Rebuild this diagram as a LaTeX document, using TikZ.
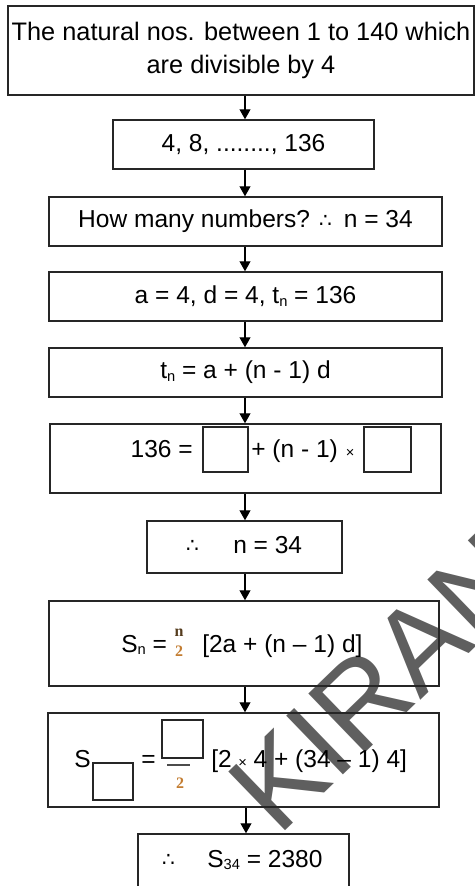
\documentclass[tikz,border=0pt]{standalone}
\usepackage{fontspec}
\setmainfont{Liberation Sans}
\newfontfamily\symfont{DejaVu Sans}
\newfontfamily\fracfont{Liberation Serif}
\usetikzlibrary{arrows.meta}
\definecolor{wmgray}{RGB}{95, 95, 95}
\definecolor{fracbrown}{RGB}{85, 60, 30}
\definecolor{fracorange}{RGB}{195, 125, 50}
\newcommand{\tf}{{\symfont\fontsize{15}{15}\selectfont ∴}}
\newcommand{\lowsub}[1]{\raisebox{-2.2pt}{\fontsize{11}{11}\selectfont #1}}
\newcommand{\smalltimes}{{\fontsize{11}{11}\selectfont ×}}

\begin{document}
\begin{tikzpicture}[x=0.75pt, y=-0.75pt,
    flowbox/.style={draw=black!85, line width=1.1pt, inner sep=0pt, font=\fontsize{18.4}{24.75}\selectfont},
    boxsize/.style 2 args={minimum width=#1*0.75pt, minimum height=#2*0.75pt},
    blank/.style={draw=black!85, line width=1pt, inner sep=0pt},
    txt/.style={inner sep=0pt, font=\fontsize{18.4}{24.75}\selectfont},
    frac/.style={inner sep=0pt, font=\fracfont\bfseries\fontsize{12}{12}\selectfont},
    arr/.style={-{Triangle[width=8.25pt, length=7.5pt]}, line width=0.8pt},
    wmark/.style={inner sep=0pt, text=wmgray, font=\fontsize{89}{89}\selectfont}]
    \clip (0,0) rectangle (475,886);

    % Watermark behind everything
    \node[wmark, rotate=44, anchor=base west] (wm) at (278,838) {KIRAN};

    % Plain boxes with centred text
    \node[flowbox, boxsize={466}{89}, align=center, font=\fontsize{19}{24.75}\selectfont] (b1) at (241,50.5)
        {The natural nos. between 1 to 140 which\\are divisible by 4};
    \node[flowbox, boxsize={261}{49}] (b2) at (243.5,144.5) {4, 8, ........, 136};
    \node[flowbox, boxsize={393}{49}] (b3) at (245.5,221.5) {How many numbers? \tf\hspace{9pt}n = 34};
    \node[flowbox, boxsize={393}{49}] (b4) at (245.5,296.5) {a = 4, d = 4, t\lowsub{n} = 136};
    \node[flowbox, boxsize={393}{49}] (b5) at (245.5,372.5) {t\lowsub{n} = a + (n - 1) d};

    % 136 = [ ] + (n - 1) x [ ]
    \node[flowbox, boxsize={391}{69}] (b6) at (245.5,458.5) {};
    \node[txt, anchor=base east] (t6a) at (193,457) {136 =};
    \node[blank, boxsize={45}{45}] (s6a) at (225.5,449.5) {};
    \node[txt, anchor=base west] (t6b) at (251,457) {+ (n - 1)\hspace{6pt}\smalltimes};
    \node[blank, boxsize={47}{45}] (s6b) at (387.5,449.5) {};

    % therefore n = 34
    \node[flowbox, boxsize={195}{52}] (b7) at (244.5,547) {};
    \node[txt] (t7a) at (192.5,546) {\tf};
    \node[txt, anchor=base west] (t7b) at (233,553) {n = 34};

    % Sum formula
    \node[flowbox, boxsize={390}{85}] (b8) at (244,643.5) {};
    \node[txt, anchor=base west] (t8a) at (121,652) {S\lowsub{n} =};
    \node[frac, text=fracbrown, anchor=base] (f8n) at (179,636) {n};
    \node[frac, text=fracorange, anchor=base] (f8d) at (179,656) {2};
    \node[txt, anchor=base west] (t8b) at (202,652) {[2a + (n – 1) d]};

    % Sum with blanks
    \node[flowbox, boxsize={391}{94}] (b9) at (243.5,760) {};
    \node[txt, anchor=base west] (t9a) at (74,767) {S};
    \node[blank, boxsize={40}{37}] (s9a) at (113,781.5) {};
    \node[txt, anchor=base west] (t9b) at (141,767) {=};
    \node[blank, boxsize={41}{38}] (s9b) at (182.5,739) {};
    \draw[black!70, line width=1.5pt] (167,765) -- (190,765);
    \node[frac, text=fracorange, anchor=base] (f9d) at (180,788) {2};
    \node[txt, anchor=base west] (t9c) at (211,767) {[2\hspace{5pt}\smalltimes\hspace{5pt}4 + (34 – 1) 4]};

    % Result
    \node[flowbox, boxsize={211}{66}] (b10) at (243.5,867) {};
    \node[txt] (t10a) at (168.5,860) {\tf};
    \node[txt, anchor=base west] (t10b) at (207,867) {S\lowsub{34} = 2380};

    % Arrows down the column
    \coordinate (col) at (245,0);
    \coordinate (col2) at (246,0);
    \foreach \a/\b in {b1/b2, b2/b3, b3/b4, b4/b5, b5/b6, b6/b7, b7/b8, b8/b9}
        \draw[arr] (\a.south -| col) -- (\b.north -| col);
    \draw[arr] (b9.south -| col2) -- (b10.north -| col2);
\end{tikzpicture}
\end{document}
